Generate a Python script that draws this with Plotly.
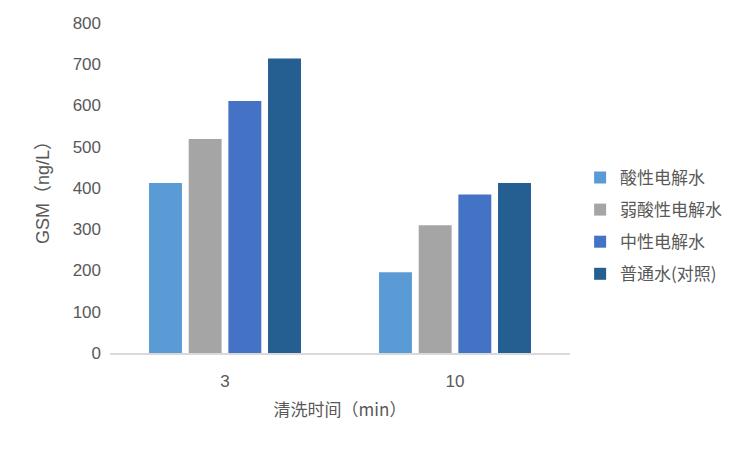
import plotly.graph_objects as go

# 数据
categories = ['3', '10']
series_names = ['酸性电解水', '弱酸性电解水', '中性电解水', '普通水(对照)']
acid = [412, 196]
weak_acid = [519, 310]
neutral = [611, 384]
control = [714, 412]
colors = ['#5B9BD5', '#A5A5A5', '#4472C4', '#255E91']

fig = go.Figure()
for i, (name, vals, c) in enumerate(zip(series_names, [acid, weak_acid, neutral, control], colors)):
    fig.add_trace(go.Bar(x=categories, y=vals, name=name, marker_color=c,
                         marker_line_width=0, legendgroup=str(i)))

# 页面 body 有 8px 的默认边距，所以整体往左上挪 8px
fig.update_layout(
    width=742, height=442,
    paper_bgcolor='white', plot_bgcolor='white',
    margin=dict(l=102, r=180, t=15, b=97),
    barmode='group', bargap=0.31, bargroupgap=0.17,
    font=dict(family='Liberation Sans, Noto Sans CJK SC', size=17, color='#595959'),
    legend=dict(x=1.022, y=0.385, yanchor='middle', xanchor='left',
                font=dict(family='Noto Sans CJK SC', size=17, color='#595959'),
                tracegroupgap=7, itemwidth=30, traceorder='grouped'),
    showlegend=True,
)
fig.update_xaxes(type='category', showline=True, linecolor='#D9D9D9', linewidth=1.5,
                 ticks='', showgrid=False, automargin=False, ticklabelstandoff=12,
                 title=dict(text='清洗时间（min）', standoff=14,
                            font=dict(family='Noto Sans CJK SC', size=17, color='#595959')))
fig.update_yaxes(range=[0, 800], dtick=100, showgrid=False, zeroline=False,
                 showline=False, ticks='', ticklabelstandoff=8, automargin=False,
                 title=dict(text='GSM（ng/L）', standoff=18,
                            font=dict(family='Liberation Sans, Noto Sans CJK SC', size=18, color='#595959')))

fig.write_html("out.html")
